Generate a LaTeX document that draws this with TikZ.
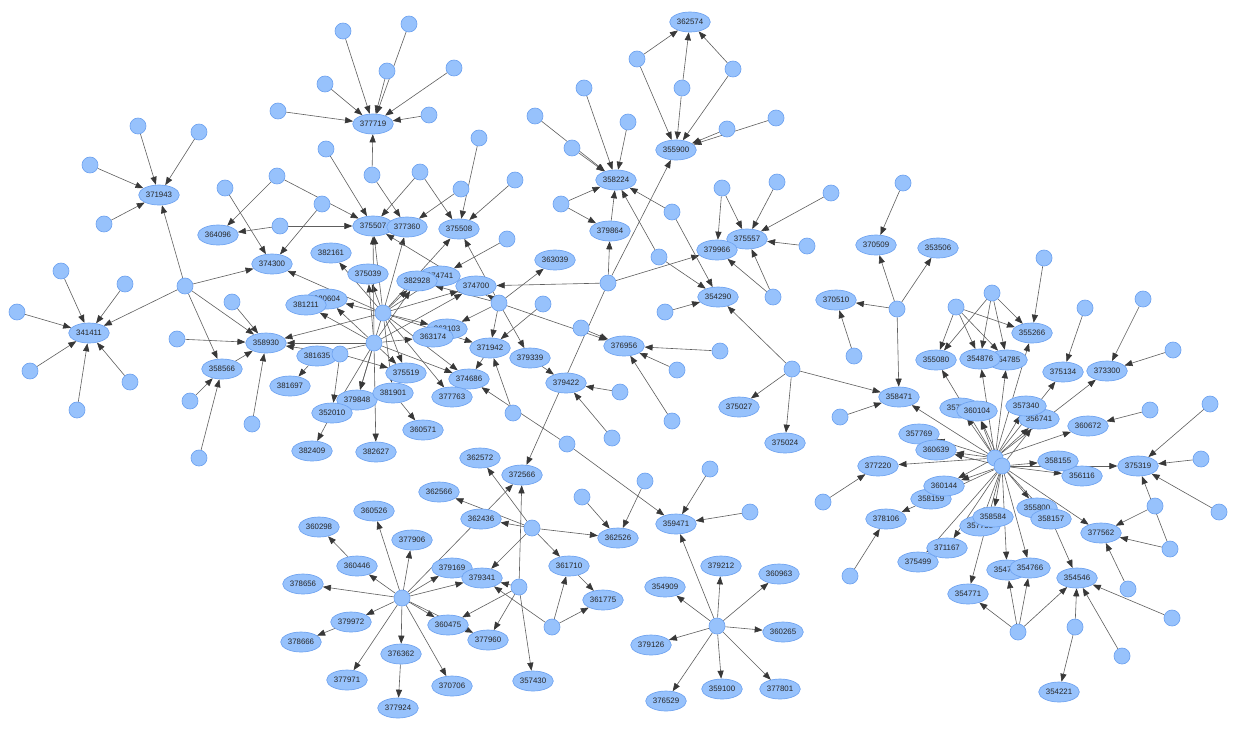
\documentclass[tikz,border=0pt]{standalone}
\usepackage{fontspec}
\newfontfamily\labfont{Liberation Sans}
\usetikzlibrary{shapes.geometric,arrows.meta}
\definecolor{nfill}{HTML}{97C2FC}
\definecolor{nborder}{HTML}{6FA3F0}
\definecolor{egray}{HTML}{5E5E5E}
\definecolor{agray}{HTML}{383838}
\pgfdeclarelayer{back}\pgfdeclarelayer{edges}
\pgfsetlayers{back,edges,main}
\tikzset{
 enode/.style={ellipse, fill=nfill, draw=nborder, line width=0.5pt, minimum width=30.5pt, minimum height=15pt, inner sep=0pt, font=\labfont\fontsize{5.9}{6}\selectfont, text=black!85},
 cnode/.style={circle, fill=nfill, draw=nborder, line width=0.5pt, minimum size=12pt, inner sep=0pt},
 arr/.style={draw=egray, line width=0.45pt, -{Triangle[length=6pt,width=4.6pt,color=agray]}},
}
\newcommand\mkE[3]{\node[enode] (n#3) at (#1,#2) {#3};}
\newcommand\mkC[3]{\node[cnode] (#1) at (#2,#3) {};}
\begin{document}
\begin{tikzpicture}[x=0.75pt,y=-0.75pt]
\begin{pgfonlayer}{back}
\fill[white] (0,0) rectangle (1237,729);
\end{pgfonlayer}
\useasboundingbox (0,0) rectangle (1237,729);
% labelled nodes (hidden ones first)
\mkE{373}{124}{377719}
\mkE{159}{195}{371943}
\mkE{218}{235}{364096}
\mkE{373}{226}{375507}
\mkE{407}{227}{377360}
\mkE{459}{229}{375508}
\mkE{272}{264}{374300}
\mkE{331}{253}{382161}
\mkE{368}{274}{375039}
\mkE{440}{276}{374741}
\mkE{417}{281}{382928}
\mkE{476}{286}{374700}
\mkE{327}{299}{380604}
\mkE{306}{305}{381211}
\mkE{447}{329}{363103}
\mkE{433}{337}{363174}
\mkE{266}{343}{358930}
\mkE{317}{356}{381635}
\mkE{490}{348}{371942}
\mkE{530}{358}{379339}
\mkE{406}{373}{375519}
\mkE{469}{379}{374686}
\mkE{222}{369}{358566}
\mkE{290}{386}{381697}
\mkE{357}{400}{379848}
\mkE{393}{393}{381901}
\mkE{452}{397}{377763}
\mkE{332}{413}{352010}
\mkE{423}{430}{360571}
\mkE{312}{451}{382409}
\mkE{376}{452}{382627}
\mkE{89}{333}{341411}
\mkE{555}{260}{363039}
\mkE{690}{22}{362574}
\mkE{676}{150}{355900}
\mkE{616}{180}{358224}
\mkE{610}{231}{379864}
\mkE{747}{239}{375557}
\mkE{717}{250}{379966}
\mkE{718}{297}{354290}
\mkE{624}{346}{376956}
\mkE{566}{383}{379422}
\mkE{739}{407}{375027}
\mkE{785}{443}{375024}
\mkE{876}{245}{370509}
\mkE{938}{248}{353506}
\mkE{836}{300}{370510}
\mkE{1032}{333}{355266}
\mkE{936}{360}{355080}
\mkE{1007}{360}{354785}
\mkE{980}{359}{354876}
\mkE{1063}{372}{375134}
\mkE{1107}{371}{373300}
\mkE{899}{397}{358471}
\mkE{960}{408}{357735}
\mkE{977}{411}{360104}
\mkE{1039}{419}{356741}
\mkE{1026}{406}{357340}
\mkE{1088}{426}{360672}
\mkE{919}{434}{357769}
\mkE{936}{450}{360639}
\mkE{878}{466}{377220}
\mkE{931}{499}{358159}
\mkE{944}{486}{360144}
\mkE{886}{519}{378106}
\mkE{1082}{476}{356116}
\mkE{1058}{461}{358155}
\mkE{1138}{466}{375319}
\mkE{1037}{508}{355800}
\mkE{1051}{519}{358157}
\mkE{980}{526}{357755}
\mkE{993}{517}{358584}
\mkE{1101}{533}{377562}
\mkE{918}{562}{375499}
\mkE{947}{548}{371167}
\mkE{1007}{570}{354779}
\mkE{1030}{568}{354766}
\mkE{968}{594}{354771}
\mkE{1077}{578}{354546}
\mkE{1059}{692}{354221}
\mkE{676}{524}{359471}
\mkE{618}{538}{362526}
\mkE{721}{566}{379212}
\mkE{779}{574}{360963}
\mkE{665}{587}{354909}
\mkE{783}{632}{360265}
\mkE{651}{645}{379126}
\mkE{666}{701}{376529}
\mkE{722}{689}{359100}
\mkE{780}{689}{377801}
\mkE{569}{566}{361710}
\mkE{603}{600}{361775}
\mkE{480}{458}{362572}
\mkE{522}{475}{372566}
\mkE{439}{492}{362566}
\mkE{481}{519}{362436}
\mkE{374}{511}{360526}
\mkE{319}{527}{360298}
\mkE{412}{540}{377906}
\mkE{357}{566}{360446}
\mkE{452}{568}{379169}
\mkE{482}{578}{379341}
\mkE{303}{584}{378656}
\mkE{351}{622}{379972}
\mkE{301}{642}{378666}
\mkE{488}{640}{377960}
\mkE{448}{625}{360475}
\mkE{401}{654}{376362}
\mkE{398}{708}{377924}
\mkE{347}{680}{377971}
\mkE{452}{686}{370706}
\mkE{533}{681}{357430}
% unlabelled nodes
\mkC{c1}{343}{31}\mkC{c2}{409}{24}\mkC{c3}{387}{71}\mkC{c4}{325}{84}
\mkC{c5}{454}{68}\mkC{c6}{278}{111}\mkC{c7}{429}{115}
\mkC{c8}{138}{126}\mkC{c9}{199}{132}\mkC{c10}{90}{165}\mkC{c11}{104}{224}
\mkC{c12}{326}{149}\mkC{c13}{277}{176}\mkC{c14}{372}{175}\mkC{c15}{420}{172}
\mkC{c16}{225}{188}\mkC{c17}{322}{204}\mkC{c18}{280}{226}\mkC{c19}{479}{138}
\mkC{c20}{461}{189}\mkC{c21}{515}{180}\mkC{c22}{507}{239}\mkC{c23}{185}{286}
\mkC{c24}{61}{271}\mkC{c25}{125}{284}\mkC{c26}{17}{312}\mkC{c27}{30}{371}
\mkC{c28}{77}{410}\mkC{c29}{130}{382}\mkC{c30}{232}{302}\mkC{c31}{177}{339}
\mkC{c32}{190}{401}\mkC{c33}{199}{458}\mkC{c34}{252}{424}
\mkC{hA}{383}{313}\mkC{hB}{374}{343}\mkC{c35}{340}{354}\mkC{hC}{499}{303}
\mkC{c36}{543}{304}\mkC{c37}{581}{328}\mkC{c38}{513}{413}\mkC{c39}{567}{444}
\mkC{hD}{608}{283}\mkC{c40}{620}{392}\mkC{c41}{612}{438}
\mkC{c42}{637}{59}\mkC{c43}{682}{88}\mkC{c44}{733}{69}\mkC{c45}{727}{129}\mkC{c46}{776}{118}
\mkC{c47}{584}{88}\mkC{c48}{535}{116}\mkC{c49}{572}{148}\mkC{c50}{628}{122}
\mkC{c51}{561}{204}\mkC{c52}{672}{212}\mkC{c53}{659}{257}
\mkC{c54}{722}{188}\mkC{c55}{777}{182}\mkC{c56}{831}{193}\mkC{c57}{807}{246}\mkC{c58}{773}{297}
\mkC{c59}{665}{312}\mkC{c60}{792}{369}\mkC{c61}{720}{351}\mkC{c62}{677}{370}\mkC{c63}{672}{421}
\mkC{c64}{903}{183}\mkC{c65}{897}{309}\mkC{c66}{854}{356}\mkC{c67}{840}{417}
\mkC{c68}{956}{307}\mkC{c69}{992}{293}\mkC{c70}{1044}{258}\mkC{c71}{1085}{308}
\mkC{c72}{1143}{299}\mkC{c73}{1173}{350}\mkC{c74}{1150}{410}\mkC{c75}{1210}{404}
\mkC{c76}{1201}{459}\mkC{c77}{1155}{506}\mkC{c78}{1219}{512}\mkC{c79}{1170}{549}
\mkC{c80}{1128}{589}\mkC{c81}{1172}{618}\mkC{c82}{1122}{656}\mkC{c83}{1075}{627}
\mkC{c84}{1018}{632}\mkC{c85}{823}{502}\mkC{c86}{850}{576}
\mkC{hE1}{995}{458}\mkC{hE2}{1002}{466}
\mkC{c87}{645}{481}\mkC{c88}{582}{497}\mkC{c89}{710}{469}\mkC{c90}{750}{512}
\mkC{hG}{532}{528}\mkC{c91}{519}{587}\mkC{c92}{552}{627}
\mkC{hH}{402}{598}\mkC{hF}{717}{626}
% connectors
\begin{pgfonlayer}{edges}
\foreach \s/\t in {c1/n377719,c2/n377719,c3/n377719,c4/n377719,c5/n377719,c6/n377719,c7/n377719,c14/n377719,
 c8/n371943,c9/n371943,c10/n371943,c11/n371943,c23/n371943,
 c12/n375507,c13/n364096,c13/n375507,c14/n377360,c15/n375507,c15/n375508,c16/n374300,c17/n374300,
 c18/n364096,c18/n375507,c19/n375508,c20/n377360,c21/n375508,c22/n374741,
 c23/n341411,c23/n374300,c23/n358930,c23/n358566,
 c24/n341411,c25/n341411,c26/n341411,c27/n341411,c28/n341411,c29/n341411,
 c30/n358930,c31/n358930,c32/n358566,c33/n358566,c34/n358930,n358566/n358930,
 hA/n382161,hA/n374300,hA/n375039,hA/n375507,hA/n377360,hA/n375508,hA/n382928,hA/n374741,hA/n374700,
 hA/n380604,hA/n358930,hA/n363103,hA/n371942,hA/n374686,hA/n377763,hA/n375519,hA/n381901,hA/n379848,
 hB/n375039,hB/n375507,hB/n382928,hB/n374700,hB/n380604,hB/n381211,hB/n358930,hB/n381635,hB/n363174,
 hB/n375519,hB/n379848,hB/n382627,hB/n352010,hB/n374686,
 hC/n375508,hC/n375507,hC/n382928,hC/n374700,hC/n363103,hC/n363039,hC/n371942,hC/n379339,hC/n376956,
 c35/n358930,c35/n352010,c35/n375519,
 n381635/n381697,n352010/n382409,n381901/n360571,n371942/n374686,n379339/n379422,
 c36/n371942,c37/n376956,c38/n371942,c39/n374686,c39/n359471,
 hD/n374700,hD/n355900,hD/n379864,hD/n379966,hD/n372566,
 c40/n379422,c41/n379422,
 c42/n362574,c42/n355900,c43/n362574,c43/n355900,c44/n362574,c44/n355900,c45/n355900,c46/n355900,
 c47/n358224,c48/n358224,c49/n358224,c50/n358224,c51/n358224,c51/n379864,n379864/n358224,
 c52/n358224,c52/n354290,c53/n358224,c53/n354290,
 c54/n379966,c54/n375557,c55/n375557,c56/n375557,c57/n375557,c58/n379966,c58/n375557,
 c59/n354290,c60/n354290,c60/n375027,c60/n375024,c60/n358471,
 c61/n376956,c62/n376956,c63/n376956,
 c64/n370509,c65/n370509,c65/n353506,c65/n370510,c65/n358471,c66/n370510,c67/n358471,
 c68/n355080,c68/n354876,c68/n354785,c68/n355266,c69/n355266,c69/n354876,c69/n354785,c69/n355080,c70/n355266,
 c71/n375134,c72/n373300,c73/n373300,c74/n360672,c75/n375319,c76/n375319,c77/n377562,c78/n375319,
 c79/n375319,c79/n377562,c80/n377562,c81/n354546,c82/n354546,c83/n354546,c83/n354221,
 c84/n354771,c84/n354779,c84/n354766,c84/n354546,
 c85/n377220,c86/n378106,n358159/n378106,n358157/n354546,
 hE1/n358471,hE1/n357735,hE1/n360104,hE1/n355080,hE1/n354876,hE1/n354785,hE1/n355266,hE1/n357340,
 hE1/n356741,hE1/n375134,hE1/n373300,hE1/n360672,hE1/n357769,hE1/n360639,hE1/n377220,hE1/n360144,
 hE2/n360104,hE2/n356741,hE2/n360144,hE2/n358159,hE2/n371167,hE2/n375499,hE2/n357755,hE2/n358584,
 hE2/n354779,hE2/n354766,hE2/n354771,hE2/n355800,hE2/n358157,hE2/n377562,hE2/n358155,hE2/n356116,
 hE2/n375319,hE2/n360639,
 c87/n362526,c88/n362526,c89/n359471,c90/n359471,
 hG/n362572,hG/n362566,hG/n362436,hG/n362526,hG/n361710,hG/n379341,
 c91/n372566,c91/n379341,c91/n360475,c91/n377960,c91/n357430,
 c92/n361710,c92/n361775,c92/n379341,n361710/n361775,
 hH/n360526,hH/n377906,hH/n360446,hH/n378656,hH/n379972,hH/n360475,hH/n379169,hH/n379341,
 hH/n376362,hH/n377971,hH/n370706,hH/n372566,hH/n377960,
 n360446/n360298,n379972/n378666,n376362/n377924,
 hF/n359471,hF/n379212,hF/n360963,hF/n354909,hF/n360265,hF/n379126,hF/n376529,hF/n359100,hF/n377801}
 {\draw[arr] (\s) -- (\t);}
\end{pgfonlayer}
\end{tikzpicture}
\end{document}
